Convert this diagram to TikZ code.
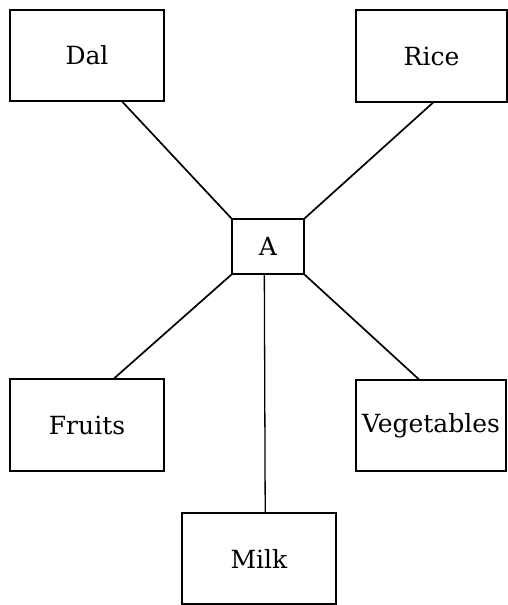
\documentclass[tikz,border=0pt]{standalone}
\usepackage{fontspec}
\setmainfont{DejaVu Serif}
\usetikzlibrary{calc}
\begin{document}
\begin{tikzpicture}[x=1pt,y=-1pt,
  box/.style={draw,line width=1.3pt,rectangle,inner sep=0pt,font=\fontsize{25}{29}\selectfont},
  link/.style={line width=1.7pt}]
\useasboundingbox (0,0) rectangle (507,605);
\node[box,minimum width=154pt,minimum height=91pt] (dal) at (87,55.5) {Dal};
\node[box,minimum width=151pt,minimum height=92pt] (rice) at (431.5,56) {Rice};
\node[box,minimum width=72pt,minimum height=55pt] (a) at (268,246.5) {A};
\node[box,minimum width=154pt,minimum height=92pt] (fruits) at (87,425) {Fruits};
\node[box,minimum width=150pt,minimum height=91pt] (veg) at (431,425.5) {Vegetables};
\node[box,minimum width=154pt,minimum height=91pt] (milk) at (259,558.5) {Milk};
\draw[link] ($(dal.south west)!0.727!(dal.south east)$) -- (a.north west);
\draw[link] ($(rice.south west)!0.51!(rice.south east)$) -- (a.north east);
\draw[link] ($(fruits.north west)!0.675!(fruits.north east)$) -- (a.south west);
\draw[link] ($(veg.north west)!0.42!(veg.north east)$) -- (a.south east);
\draw[line width=1.3pt] ($(a.south west)!0.45!(a.south east)$) -- ($(milk.north west)!0.54!(milk.north east)$);
\end{tikzpicture}
\end{document}
